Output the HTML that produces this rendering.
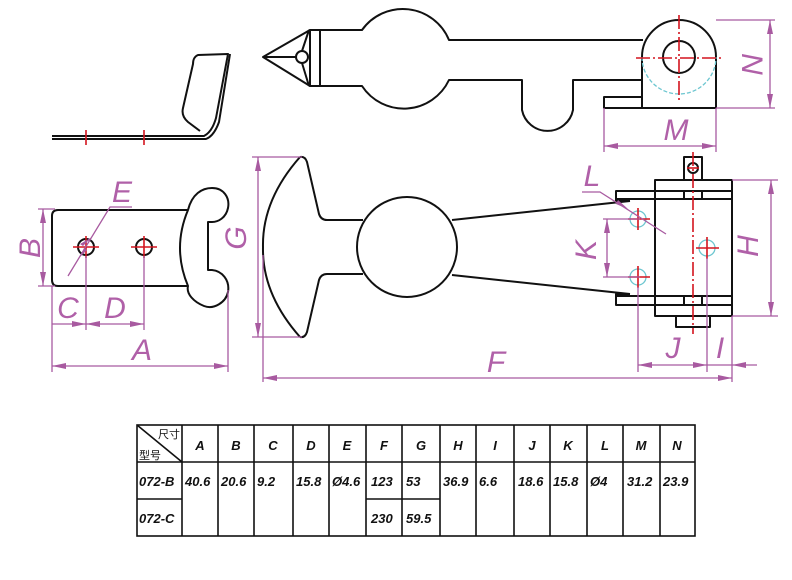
<!DOCTYPE html>
<html><head><meta charset="utf-8"><style>
html,body{margin:0;padding:0;background:#fff;}
svg{display:block;}
.k{fill:none;stroke:#111;stroke-width:2;stroke-linejoin:round;}
.m{fill:none;stroke:#a85aa0;stroke-width:1.3;}
.r{fill:none;stroke:#d4141e;stroke-width:1.6;}
.rd{fill:none;stroke:#d4141e;stroke-width:1.6;stroke-dasharray:14 3 2 3;}
.c{fill:none;stroke:#6cc6d0;stroke-width:1.3;}
.cd{fill:none;stroke:#6cc6d0;stroke-width:1.3;stroke-dasharray:4 2;}
.lb{font-family:"Liberation Sans",sans-serif;font-style:italic;fill:#b060a8;font-size:30px;}
.t{font-family:"Liberation Sans",sans-serif;font-style:italic;font-weight:bold;font-size:13px;fill:#111;}
.tc{font-family:"Liberation Sans","Noto Sans CJK SC",sans-serif;font-size:11px;fill:#111;}
.ar{fill:#a85aa0;}
</style></head><body>
<svg width="792" height="580" viewBox="0 0 792 580" xmlns="http://www.w3.org/2000/svg">
<!-- top side bent plate -->
<path class="k" d="M52,136 L204,136 Q212,132 216,118 L228,54 L198,55 Q193,57 193,64 L183,108 Q181,116 188,122 L200,131" stroke-width="1.6"/>
<path class="k" d="M52,139 L206,139 Q214,136 219,122 L230,54" stroke-width="1.6"/>
<line class="r" x1="86" y1="130" x2="86" y2="145"/>
<line class="r" x1="144" y1="130" x2="144" y2="145"/>

<!-- top view latch -->
<path class="k" d="M263,57 L310,30 L310,86 Z"/>
<line class="k" x1="263" y1="57" x2="296" y2="57"/>
<circle class="k" cx="302" cy="57" r="6" fill="#fff"/>
<line class="k" x1="309" y1="30" x2="302" y2="51"/>
<line class="k" x1="309" y1="86" x2="302" y2="63"/>
<rect class="k" x="310" y="30" width="10" height="56"/>
<path class="k" d="M320,30 L362,30 A50,50 0 0 1 449,40 L643,40"/>
<path class="k" d="M320,86 L362,86 A50,50 0 0 0 449,80 L522,80 L522,110 A26,26 0 0 0 573,110 L573,80 L642,80"/>
<path class="k" d="M642,108 L642,57 A37,37 0 0 1 716,57 L716,108 Z"/>
<path class="k" d="M642,97 L604,97 L604,108 L642,108"/>
<circle class="k" cx="679" cy="57" r="16"/>
<path class="cd" d="M642,57 A37,37 0 0 0 716,57"/>
<line class="rd" x1="636" y1="58" x2="722" y2="58"/>
<line class="rd" x1="679" y1="15" x2="679" y2="102"/>
<!-- N dim -->
<line class="m" x1="716" y1="20" x2="775" y2="20"/>
<line class="m" x1="716" y1="108" x2="775" y2="108"/>
<line class="m" x1="770" y1="20" x2="770" y2="108"/>
<path class="ar" d="M770,20 l-3,14 l6,0 z M770,108 l-3,-14 l6,0 z"/>
<text class="lb" transform="translate(742,64) rotate(90)" text-anchor="middle">N</text>
<!-- M dim -->
<line class="m" x1="604" y1="108" x2="604" y2="152"/>
<line class="m" x1="716" y1="108" x2="716" y2="152"/>
<line class="m" x1="604" y1="146" x2="716" y2="146"/>
<path class="ar" d="M604,146 l14,-3 l0,6 z M716,146 l-14,-3 l0,6 z"/>
<text class="lb" x="676" y="140" text-anchor="middle">M</text>

<!-- bottom-left plate -->
<path class="k" d="M188,210 L58,210 Q52,210 52,216 L52,280 Q52,286 58,286 L188,286"/>
<path class="k" d="M188,210 C192,194 202,188 212,188 C224,188 230,198 228,208 C226,218 218,222 212,222 L208,222 L208,270 L212,270 C222,271 230,280 228,292 C226,302 214,310 204,306 C194,302 186,294 188,286 Q172,248 188,210 Z"/>
<circle class="k" cx="86" cy="247" r="8" stroke-width="1.6"/>
<circle class="k" cx="144" cy="247" r="8" stroke-width="1.6"/>
<path class="r" d="M73,247 H99 M86,236 V258 M131,247 H157 M144,236 V258"/>
<!-- B -->
<line class="m" x1="38" y1="209" x2="55" y2="209"/>
<line class="m" x1="38" y1="286" x2="55" y2="286"/>
<line class="m" x1="43" y1="209" x2="43" y2="286"/>
<path class="ar" d="M43,209 l-3,14 l6,0 z M43,286 l-3,-14 l6,0 z"/>
<text class="lb" transform="translate(40,248) rotate(-90)" text-anchor="middle">B</text>
<!-- C D A -->
<line class="m" x1="52" y1="286" x2="52" y2="372"/>
<line class="m" x1="86" y1="256" x2="86" y2="330"/>
<line class="m" x1="144" y1="256" x2="144" y2="330"/>
<line class="m" x1="228" y1="290" x2="228" y2="372"/>
<line class="m" x1="52" y1="324" x2="144" y2="324"/>
<path class="ar" d="M86,324 l-14,-3 l0,6 z M86,324 l14,-3 l0,6 z M144,324 l-14,-3 l0,6 z"/>
<text class="lb" x="68" y="318" text-anchor="middle">C</text>
<text class="lb" x="115" y="318" text-anchor="middle">D</text>
<line class="m" x1="52" y1="366" x2="228" y2="366"/>
<path class="ar" d="M52,366 l14,-3 l0,6 z M228,366 l-14,-3 l0,6 z"/>
<text class="lb" x="142" y="360" text-anchor="middle">A</text>
<!-- E leader -->
<path class="m" d="M68,276 L110,207 L132,207"/>
<path class="ar" d="M92,237 l-9,9 l-3,-2 z M80,257 l4,-9 l3,2 z"/>
<text class="lb" x="122" y="202" text-anchor="middle">E</text>

<!-- middle T piece -->
<path class="k" d="M300,157 Q305,156 307,162 L319,214 Q321,220 327,220 L363,220"/>
<path class="k" d="M300,337 Q305,338 307,332 L319,280 Q321,274 327,274 L363,274"/>
<path class="k" d="M300,157 Q262,200 263,247 Q262,294 300,337"/>
<circle class="k" cx="407" cy="247" r="50"/>
<line class="k" x1="452" y1="220" x2="630" y2="201"/>
<line class="k" x1="452" y1="275" x2="630" y2="294"/>
<!-- G -->
<line class="m" x1="252" y1="157" x2="302" y2="157"/>
<line class="m" x1="252" y1="337" x2="302" y2="337"/>
<line class="m" x1="258" y1="157" x2="258" y2="337"/>
<path class="ar" d="M258,157 l-3,14 l6,0 z M258,337 l-3,-14 l6,0 z"/>
<text class="lb" transform="translate(246,238) rotate(-90)" text-anchor="middle">G</text>
<!-- F -->
<line class="m" x1="263" y1="255" x2="263" y2="382"/>
<line class="m" x1="263" y1="378" x2="732" y2="378"/>
<path class="ar" d="M263,378 l14,-3 l0,6 z M732,378 l-14,-3 l0,6 z"/>
<text class="lb" x="496" y="372" text-anchor="middle">F</text>

<!-- right assembly -->
<rect class="k" x="655" y="180" width="77" height="136"/>
<path class="k" d="M630,201 L616,201 L616,191 L655,191 M616,199 L732,199 M655,191 L732,191"/>
<path class="k" d="M630,294 L616,294 L616,305 L732,305 M616,296 L732,296"/>
<path class="k" d="M684,191 V199 M702,191 V199 M684,296 V305 M702,296 V305" stroke-width="1.6"/>
<rect class="k" x="684" y="157" width="18" height="23"/>
<circle class="k" cx="693" cy="168" r="5" stroke-width="1.5"/>
<rect class="k" x="676" y="316" width="34" height="11"/>
<line class="rd" x1="693" y1="152" x2="693" y2="334"/>
<path class="r" d="M687,168 H699"/>
<circle class="c" cx="638" cy="219" r="8"/>
<circle class="c" cx="638" cy="277" r="8"/>
<circle class="c" cx="707" cy="248" r="8"/>
<path class="r" d="M628,219 H650 M638,208 V230 M628,277 H650 M638,266 V288 M696,248 H719 M707,237 V259"/>
<!-- H -->
<line class="m" x1="732" y1="180" x2="778" y2="180"/>
<line class="m" x1="732" y1="316" x2="778" y2="316"/>
<line class="m" x1="771" y1="180" x2="771" y2="316"/>
<path class="ar" d="M771,180 l-3,14 l6,0 z M771,316 l-3,-14 l6,0 z"/>
<text class="lb" transform="translate(758,246) rotate(-90)" text-anchor="middle">H</text>
<!-- K -->
<line class="m" x1="603" y1="219" x2="640" y2="219"/>
<line class="m" x1="603" y1="277" x2="640" y2="277"/>
<line class="m" x1="607" y1="219" x2="607" y2="277"/>
<path class="ar" d="M607,219 l-3,14 l6,0 z M607,277 l-3,-14 l6,0 z"/>
<text class="lb" transform="translate(596,250) rotate(-90)" text-anchor="middle">K</text>
<!-- L leader -->
<path class="m" d="M582,192 L600,192 L666,234"/>
<path class="ar" d="M628,209 l-10,-9 l-2,4 z"/>
<text class="lb" x="592" y="186" text-anchor="middle">L</text>
<!-- J I -->
<line class="m" x1="638" y1="287" x2="638" y2="372"/>
<line class="m" x1="707" y1="258" x2="707" y2="372"/>
<line class="m" x1="732" y1="316" x2="732" y2="382"/>
<line class="m" x1="638" y1="365" x2="757" y2="365"/>
<path class="ar" d="M638,365 l14,-3 l0,6 z M707,365 l-14,-3 l0,6 z M732,365 l14,-3 l0,6 z"/>
<text class="lb" x="673" y="358" text-anchor="middle">J</text>
<text class="lb" x="720" y="358" text-anchor="middle">I</text>

<!-- table -->
<g stroke="#111" stroke-width="1.6" fill="none">
<rect x="137" y="425" width="558" height="111"/>
<line x1="137" y1="462" x2="695" y2="462"/>
<line x1="137" y1="499" x2="182" y2="499"/>
<line x1="366" y1="499" x2="440" y2="499"/>
<line x1="137" y1="425" x2="182" y2="462"/>
<path d="M182,425V536 M218,425V536 M254,425V536 M293,425V536 M329,425V536 M366,425V536 M402,425V536 M440,425V536 M476,425V536 M514,425V536 M550,425V536 M587,425V536 M623,425V536 M660,425V536"/>
</g>
<text class="tc" x="158" y="438">尺寸</text>
<text class="tc" x="139" y="459">型号</text>
<g class="t" text-anchor="middle">
<text x="200" y="450">A</text><text x="236" y="450">B</text><text x="273" y="450">C</text><text x="311" y="450">D</text><text x="347" y="450">E</text><text x="384" y="450">F</text><text x="421" y="450">G</text><text x="458" y="450">H</text><text x="495" y="450">I</text><text x="532" y="450">J</text><text x="568" y="450">K</text><text x="605" y="450">L</text><text x="641" y="450">M</text><text x="677" y="450">N</text>
</g>
<g class="t">
<text x="139" y="486">072-B</text><text x="139" y="523">072-C</text>
<text x="185" y="486">40.6</text><text x="221" y="486">20.6</text><text x="257" y="486">9.2</text><text x="296" y="486">15.8</text><text x="332" y="486">Ø4.6</text><text x="371" y="486">123</text><text x="406" y="486">53</text><text x="443" y="486">36.9</text><text x="479" y="486">6.6</text><text x="518" y="486">18.6</text><text x="553" y="486">15.8</text><text x="590" y="486">Ø4</text><text x="627" y="486">31.2</text><text x="663" y="486">23.9</text>
<text x="371" y="523">230</text><text x="406" y="523">59.5</text>
</g>
</svg>
</body></html>
